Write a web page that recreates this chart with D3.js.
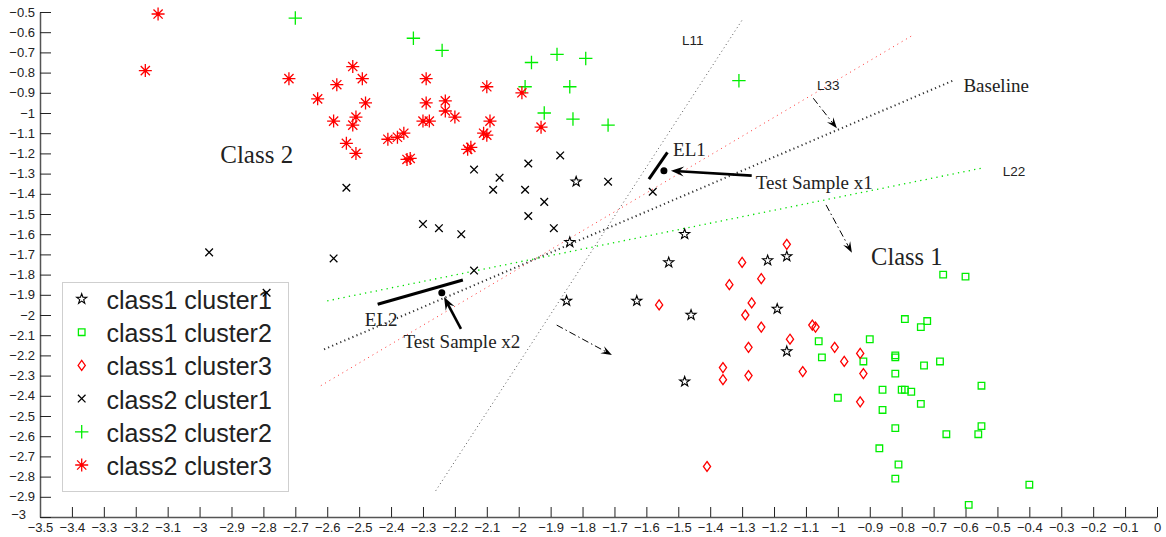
<!DOCTYPE html>
<html>
<head>
<meta charset="utf-8">
<script src="https://cdn.jsdelivr.net/npm/d3@7"></script>
<style>
  body { margin: 0; background: #fff; }
  svg { display: block; }
  .axis text { font-family: "Liberation Sans", Arial, sans-serif; font-size: 13px; fill: #222; }
  .axis .domain { stroke: #555; stroke-width: 1.5; }
  .axis .tick line { stroke: #222; }
  .serif { font-family: "Liberation Serif", "Times New Roman", serif; fill: #222; }
  .sans { font-family: "Liberation Sans", Arial, sans-serif; fill: #222; }
</style>
</head>
<body>
<div id="chart"></div>
<script>
// ---- data ----
const xTicks = [-3.5, -3.4, -3.3, -3.2, -3.1, -3, -2.9, -2.8, -2.7, -2.6, -2.5, -2.4, -2.3, -2.2, -2.1, -2,
  -1.9, -1.8, -1.7, -1.6, -1.5, -1.4, -1.3, -1.2, -1.1, -1, -0.9, -0.8, -0.7, -0.6, -0.5, -0.4, -0.3, -0.2, -0.1, 0];
const yTicks = [-3, -2.9, -2.8, -2.7, -2.6, -2.5, -2.4, -2.3, -2.2, -2.1, -2, -1.9, -1.8, -1.7, -1.6, -1.5,
  -1.4, -1.3, -1.2, -1.1, -1, -0.9, -0.8, -0.7, -0.6, -0.5];

const legendLabels = ["class1 cluster1", "class1 cluster2", "class1 cluster3",
  "class2 cluster1", "class2 cluster2", "class2 cluster3"];

// class1 cluster1 (stars)
const c1k1 = [[-1.82, -1.34], [-1.84, -1.64], [-1.48, -1.60], [-1.53, -1.74], [-1.22, -1.73], [-1.16, -1.71],
  [-1.63, -1.93], [-1.46, -2.00], [-1.19, -1.97], [-1.16, -2.18], [-1.48, -2.33], [-1.85, -1.93]];

// class1 cluster2 (squares)
const c1k2 = [[-0.67, -1.80], [-0.60, -1.81], [-0.79, -2.02], [-0.72, -2.03], [-0.74, -2.06], [-1.06, -2.13],
  [-0.90, -2.12], [-1.05, -2.21], [-0.92, -2.23], [-0.82, -2.20], [-0.82, -2.21], [-0.73, -2.25], [-0.68, -2.23],
  [-0.82, -2.29], [-0.86, -2.37], [-0.80, -2.37], [-0.79, -2.37], [-0.77, -2.38], [-0.55, -2.35], [-1.00, -2.41],
  [-0.74, -2.44], [-0.86, -2.47], [-0.82, -2.56], [-0.55, -2.55], [-0.56, -2.59], [-0.66, -2.59], [-0.87, -2.66],
  [-0.81, -2.74], [-0.82, -2.81], [-0.40, -2.84], [-0.59, -2.94]];

// class1 cluster3 (diamonds)
const c1k3 = [[-1.16, -1.65], [-1.30, -1.74], [-1.24, -1.82], [-1.34, -1.85], [-1.56, -1.95], [-1.27, -1.94],
  [-1.29, -2.00], [-1.24, -2.06], [-1.08, -2.05], [-1.07, -2.06], [-1.15, -2.12], [-1.28, -2.16], [-1.01, -2.16],
  [-0.93, -2.19], [-0.98, -2.23], [-1.36, -2.26], [-1.36, -2.32], [-1.28, -2.30], [-1.11, -2.28], [-0.92, -2.29],
  [-0.93, -2.43], [-1.41, -2.75]];

// class2 cluster1 (x)
const c2k1 = [[-2.97, -1.69], [-2.54, -1.37], [-2.58, -1.72], [-2.79, -1.89], [-2.14, -1.28], [-2.06, -1.32],
  [-2.08, -1.38], [-1.97, -1.25], [-1.87, -1.21], [-1.98, -1.38], [-1.72, -1.34], [-1.92, -1.44], [-1.97, -1.51],
  [-1.89, -1.57], [-2.30, -1.55], [-2.25, -1.57], [-2.18, -1.60], [-2.14, -1.78], [-1.58, -1.39]];

// class2 cluster2 (plus)
const c2k2 = [[-2.70, -0.53], [-2.33, -0.63], [-2.24, -0.69], [-1.96, -0.75], [-1.88, -0.71], [-1.79, -0.73],
  [-1.98, -0.87], [-1.84, -0.87], [-1.92, -1.00], [-1.83, -1.03], [-1.72, -1.06], [-1.31, -0.84]];

// class2 cluster3 (asterisks)
const c2k3 = [[-3.13, -0.51], [-3.17, -0.79], [-2.72, -0.83], [-2.57, -0.86], [-2.52, -0.77], [-2.49, -0.83],
  [-2.63, -0.93], [-2.48, -0.95], [-2.58, -1.04], [-2.51, -1.02], [-2.52, -1.06], [-2.54, -1.15], [-2.51, -1.20],
  [-2.41, -1.13], [-2.38, -1.12], [-2.36, -1.10], [-2.29, -0.83], [-2.29, -0.95], [-2.23, -0.94], [-2.23, -0.99],
  [-2.20, -1.02], [-2.30, -1.04], [-2.28, -1.04], [-2.35, -1.23], [-2.34, -1.225], [-2.10, -0.87], [-1.99, -0.90],
  [-2.09, -1.04], [-2.11, -1.10], [-2.10, -1.11], [-2.16, -1.18], [-2.15, -1.17], [-1.93, -1.07]];

// decision lines (end points)
const lineL11 = [[-2.26, -2.87], [-1.30, -0.54]];
const lineL33 = [[-2.62, -2.35], [-0.76, -0.61]];
const lineBase = [[-2.61, -2.17], [-0.64, -0.84]];
const lineL22 = [[-2.60, -1.93], [-0.54, -1.27]];

// annotations
const segEL1 = [[-1.592, -1.327], [-1.534, -1.195]];
const segEL2 = [[-2.442, -1.947], [-2.175, -1.827]];
const testPoints = [[-1.545, -1.286], [-2.241, -1.890]];
const solidArrows = [[[-1.270, -1.310], [-1.523, -1.286]], [[-2.181, -2.069], [-2.234, -1.911]]];
const dashArrows = [[[-1.077, -0.927], [-1.003, -1.076]], [[-1.037, -1.455], [-0.956, -1.692]],
  [[-1.881, -2.050], [-1.708, -2.198]]];
const notes = [["Class 2", -2.821, -1.203], ["Class 1", -0.784, -1.711], ["Baseline", -0.504, -0.866],
  ["EL1", -1.465, -1.183], ["EL2", -2.431, -2.020], ["Test Sample x1", -1.074, -1.342],
  ["Test Sample x2", -2.178, -2.132], ["L11", -1.455, -0.642], ["L33", -1.030, -0.865], ["L22", -0.448, -1.292]];

// ---- drawing ----
const width = 1166, height = 537;
const margin = { top: 12, right: 9, bottom: 20, left: 40 };

const svg = d3.select("#chart").append("svg")
  .attr("width", width)
  .attr("height", height);

const x = d3.scaleLinear().domain([-3.5, 0]).range([margin.left, width - margin.right]);
const y = d3.scaleLinear().domain([-3, -0.5]).range([height - margin.bottom, margin.top]);
const fmt = d3.format("~g");

svg.append("g")
  .attr("class", "axis")
  .attr("transform", `translate(0,${y(-3)})`)
  .call(d3.axisBottom(x).tickValues(xTicks).tickFormat(fmt).tickSizeInner(-10).tickSizeOuter(0).tickPadding(6));

const yAxis = svg.append("g")
  .attr("class", "axis")
  .attr("transform", `translate(${x(-3.5)},0)`)
  .call(d3.axisLeft(y).tickValues(yTicks).tickFormat(fmt).tickSizeInner(-11).tickSizeOuter(0).tickPadding(5));
// the lowest y label sits left of the corner, clear of the first x label
yAxis.selectAll(".tick text").filter(d => d === -3).attr("x", -14).attr("dy", "0.1em");

// dotted lines
const line = d3.line().x(d => x(d[0])).y(d => y(d[1]));
svg.append("path").datum(lineL11).attr("d", line)
  .attr("stroke", "#555").attr("stroke-width", 1).attr("stroke-dasharray", "1,3").attr("fill", "none");
svg.append("path").datum(lineL33).attr("d", line)
  .attr("stroke", "#ff3030").attr("stroke-width", 1).attr("stroke-dasharray", "1,4").attr("fill", "none");
svg.append("path").datum(lineBase).attr("d", line)
  .attr("stroke", "#333").attr("stroke-width", 2).attr("stroke-dasharray", "1.2,3.2").attr("fill", "none");
svg.append("path").datum(lineL22).attr("d", line)
  .attr("stroke", "#00e000").attr("stroke-width", 1.3).attr("stroke-dasharray", "1.3,4.2").attr("fill", "none");

function markerPath(type) {
  switch (type) {
    case "star": {
      const pts = d3.range(10).map(i => {
        const r = i % 2 ? 2.1 : 5.3, a = -Math.PI / 2 + i * Math.PI / 5;
        return [r * Math.cos(a), r * Math.sin(a)];
      });
      return "M" + pts.join("L") + "Z";
    }
    case "square": return "M-3.3,-3.3H3.3V3.3H-3.3Z";
    case "diamond": return "M0,-5L3.6,0L0,5L-3.6,0Z";
    case "x": return "M-3.8,-3.8L3.8,3.8M-3.8,3.8L3.8,-3.8";
    case "plus": return "M-6.7,0H6.7M0,-6.7V6.7";
    case "asterisk": return "M-6.5,0H6.5M0,-6.5V6.5M-4.6,-4.6L4.6,4.6M-4.6,4.6L4.6,-4.6";
  }
}

const series = [
  { data: c1k1, type: "star", color: "#000" },
  { data: c1k2, type: "square", color: "#00ee00" },
  { data: c1k3, type: "diamond", color: "#ff0000" },
  { data: c2k1, type: "x", color: "#000" },
  { data: c2k2, type: "plus", color: "#00ee00" },
  { data: c2k3, type: "asterisk", color: "#ff0000" }
];

function drawMarker(g, s) {
  g.append("path").attr("d", markerPath(s.type))
    .attr("fill", "none").attr("stroke", s.color)
    .attr("stroke-width", s.type === "star" ? 1.1 : 1.3);
  if (s.type === "asterisk") g.append("circle").attr("r", 1.7).attr("fill", s.color);
}

// legend (drawn below the points, as in the figure)
const legend = svg.append("g");
legend.append("rect")
  .attr("x", 62.5).attr("y", 282.5).attr("width", 226).attr("height", 209)
  .attr("fill", "#fff").attr("stroke", "#cfcfcf");
series.forEach((s, i) => {
  const ry = 299 + i * 33.2;
  drawMarker(legend.append("g").attr("transform", `translate(81.7,${ry})`), s);
  legend.append("text").attr("class", "sans")
    .attr("x", 106.5).attr("y", ry + 10)
    .attr("font-size", "25px")
    .text(legendLabels[i]);
});

// points
series.forEach(s => {
  svg.append("g").selectAll("g")
    .data(s.data)
    .enter().append("g")
    .attr("transform", d => `translate(${x(d[0])},${y(d[1])})`)
    .each(function () { drawMarker(d3.select(this), s); });
});

// EL segments, test samples
[segEL1, segEL2].forEach(seg => {
  svg.append("path").datum(seg).attr("d", line)
    .attr("stroke", "#000").attr("stroke-width", 3).attr("fill", "none");
});
svg.append("g").selectAll("circle")
  .data(testPoints)
  .enter().append("circle")
  .attr("cx", d => x(d[0])).attr("cy", d => y(d[1])).attr("r", 3.5).attr("fill", "#000");

function arrow(from, to, opts) {
  const x0 = x(from[0]), y0 = y(from[1]), x1 = x(to[0]), y1 = y(to[1]);
  const ang = Math.atan2(y1 - y0, x1 - x0);
  const back = opts.len * 0.6;
  svg.append("line")
    .attr("x1", x0).attr("y1", y0)
    .attr("x2", x1 - back * Math.cos(ang)).attr("y2", y1 - back * Math.sin(ang))
    .attr("stroke", "#000").attr("stroke-width", opts.sw)
    .attr("stroke-dasharray", opts.dash || null);
  svg.append("path")
    .attr("d", `M0,0L${-opts.len},${opts.wid / 2}L${-opts.len * 0.62},0L${-opts.len},${-opts.wid / 2}Z`)
    .attr("transform", `translate(${x1},${y1}) rotate(${ang * 180 / Math.PI})`)
    .attr("fill", "#000");
}
solidArrows.forEach(a => arrow(a[0], a[1], { len: 13, wid: 10, sw: 2.6 }));
dashArrows.forEach(a => arrow(a[0], a[1], { len: 11, wid: 8, sw: 1, dash: "7,3,1.5,3" }));

// text notes
const noteSize = { "Class 2": 25, "Class 1": 24.5, "L11": 13.5, "L33": 13.5, "L22": 13.5 };
svg.append("g").selectAll("text")
  .data(notes)
  .enter().append("text")
  .attr("class", d => /^L\d/.test(d[0]) ? "sans" : "serif")
  .attr("x", d => x(d[1])).attr("y", d => y(d[2]))
  .attr("text-anchor", "middle")
  .attr("dominant-baseline", "central")
  .attr("font-size", d => (noteSize[d[0]] || 19) + "px")
  .text(d => d[0]);
</script>
</body>
</html>
